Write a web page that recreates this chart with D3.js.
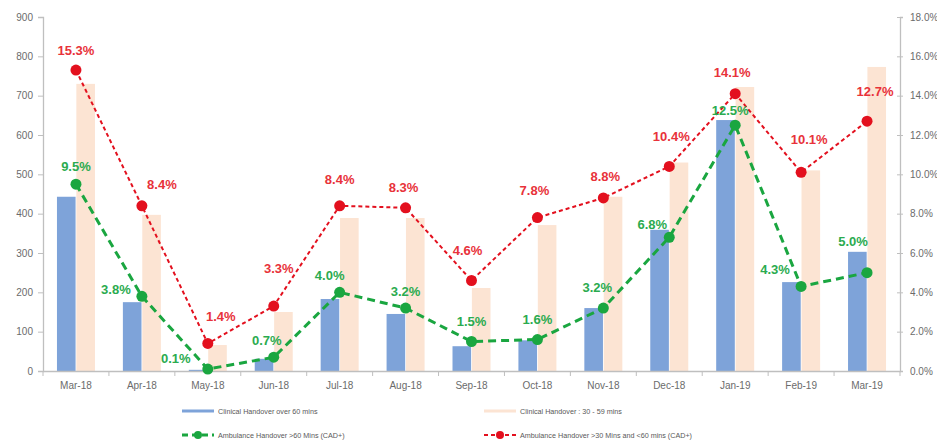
<!DOCTYPE html>
<html>
<head>
<meta charset="utf-8">
<script src="https://cdn.jsdelivr.net/npm/d3@7"></script>
<style>
  html, body { margin: 0; padding: 0; background: #fff; }
  svg { display: block; font-family: "Liberation Sans", Arial, sans-serif; }
</style>
</head>
<body>
<svg id="chart" width="937" height="444"></svg>
<script>
// Monthly handover figures, Mar-18 to Mar-19
const months = ["Mar-18", "Apr-18", "May-18", "Jun-18", "Jul-18", "Aug-18", "Sep-18",
                "Oct-18", "Nov-18", "Dec-18", "Jan-19", "Feb-19", "Mar-19"];
const clinicalOver60 = [443, 175, 3, 31, 183, 145, 63, 78, 160, 359, 638, 226, 303];
const clinical30to59 = [730, 397, 66, 150, 389, 389, 211, 371, 443, 530, 722, 510, 773];
const ambulanceOver60 = [9.5, 3.8, 0.1, 0.7, 4.0, 3.2, 1.5, 1.6, 3.2, 6.8, 12.5, 4.3, 5.0];
const ambulance30to60 = [15.3, 8.4, 1.4, 3.3, 8.4, 8.3, 4.6, 7.8, 8.8, 10.4, 14.1, 10.1, 12.7];
const leftTicks = [0, 100, 200, 300, 400, 500, 600, 700, 800, 900];
const rightTicks = [0, 2, 4, 6, 8, 10, 12, 14, 16, 18];
const seriesNames = ["Clinical Handover over 60 mins", "Clinical Handover : 30 - 59 mins",
                     "Ambulance Handover >60 Mins (CAD+)", "Ambulance Handover >30 Mins and <60 mins (CAD+)"];

// Hand-tuned data label nudges (dx, dy) so labels clear the lines
const redLabelOffset = [[0,-20],[20,-21],[13,-27],[5,-38],[0,-26],[-2,-20],[-4,-30],[-3,-27],[2,-21],[2,-30],[-3,-21],[8,-33],[8,-30]];
const greenLabelOffset = [[0,-18],[-26,-7],[-32,-11],[-7,-17],[-10,-17],[0,-17],[0,-20],[0,-20],[-6,-21],[-17,-13],[-5,-15],[-26,-17],[-14,-31]];

const BLUE = "#7ea3d9", PEACH = "#fce4d3", RED = "#e3101e", GREEN = "#1aa640";
const RED_TXT = "#e8323a", GREEN_TXT = "#2bab4f";
const AXIS = "#bfbfbf", TICK_TXT = "#6b6b6b";

const svg = d3.select("#chart");
const plot = { left: 43, right: 900, top: 17, bottom: 371 };

const x = d3.scaleBand().domain(months).range([plot.left, plot.right]).paddingInner(0).paddingOuter(0);
const yL = d3.scaleLinear().domain([0, 900]).range([plot.bottom, plot.top]);
const yR = d3.scaleLinear().domain([0, 18]).range([plot.bottom, plot.top]);
const cx = m => x(m) + x.bandwidth() / 2;
const sub = d3.scaleBand().domain([0, 1]).range([-19, 19]).paddingInner(0.04);

// Columns
const g = svg.append("g");
g.selectAll("rect.over60").data(months).join("rect")
  .attr("x", (m) => cx(m) + sub(0)).attr("width", sub.bandwidth())
  .attr("y", (m, i) => yL(clinicalOver60[i]))
  .attr("height", (m, i) => yL(0) - yL(clinicalOver60[i]))
  .attr("fill", BLUE);
g.selectAll("rect.r30").data(months).join("rect")
  .attr("x", (m) => cx(m) + sub(1)).attr("width", sub.bandwidth())
  .attr("y", (m, i) => yL(clinical30to59[i]))
  .attr("height", (m, i) => yL(0) - yL(clinical30to59[i]))
  .attr("fill", PEACH);

// Axes
const axL = svg.append("g").attr("transform", `translate(${plot.left},0)`)
  .call(d3.axisLeft(yL).tickValues(leftTicks).tickSize(5).tickPadding(5));
const axR = svg.append("g").attr("transform", `translate(${plot.right},0)`)
  .call(d3.axisRight(yR).tickValues(rightTicks).tickSize(3).tickPadding(7)
        .tickFormat(v => v.toFixed(1) + "%"));
const axB = svg.append("g").attr("transform", `translate(0,${plot.bottom})`)
  .call(d3.axisBottom(x).tickSize(0).tickPadding(11));
[axL, axR, axB].forEach(a => {
  a.select(".domain").attr("stroke", AXIS).attr("stroke-width", 1.3);
  a.selectAll(".tick line").attr("stroke", AXIS);
  a.selectAll("text").attr("fill", TICK_TXT).attr("font-size", 10)
    .attr("font-family", "'Liberation Sans', Arial, sans-serif");
});
axR.selectAll(".tick line").attr("x1", -3);
// category boundary tick marks
axB.selectAll("line.sep").data(d3.range(months.length + 1)).join("line")
  .attr("class", "sep")
  .attr("x1", i => plot.left + i * x.step()).attr("x2", i => plot.left + i * x.step())
  .attr("y1", 0).attr("y2", 5).attr("stroke", AXIS);

// Lines with markers
function series(values, color, dash, width, r) {
  const line = d3.line().x((v, i) => cx(months[i])).y(v => yR(v));
  svg.append("path").datum(values).attr("d", line)
    .attr("fill", "none").attr("stroke", color).attr("stroke-width", width)
    .attr("stroke-dasharray", dash);
  svg.append("g").selectAll("circle").data(values).join("circle")
    .attr("cx", (v, i) => cx(months[i])).attr("cy", v => yR(v))
    .attr("r", r).attr("fill", color);
}
series(ambulanceOver60, GREEN, "8,5", 3, 5.5);
series(ambulance30to60, RED, "4,3", 2, 5.5);

// Data labels
function labels(values, offsets, color) {
  svg.append("g").selectAll("text").data(values).join("text")
    .attr("x", (v, i) => cx(months[i]) + offsets[i][0])
    .attr("y", (v, i) => yR(v) + offsets[i][1])
    .attr("text-anchor", "middle").attr("dominant-baseline", "central")
    .attr("font-size", 13).attr("font-weight", "bold").attr("fill", color)
    .text(v => v.toFixed(1) + "%");
}
labels(ambulanceOver60, greenLabelOffset, GREEN_TXT);
labels(ambulance30to60, redLabelOffset, RED_TXT);

// Legend
const legend = svg.append("g").attr("font-size", 7.2).attr("fill", "#595959");
const legendItems = [
  { x: 182, y: 411, kind: "bar", color: BLUE, name: seriesNames[0] },
  { x: 484, y: 411, kind: "bar", color: PEACH, name: seriesNames[1] },
  { x: 182, y: 435, kind: "line", color: GREEN, dash: "6,4", w: 3, name: seriesNames[2] },
  { x: 484, y: 435, kind: "line", color: RED, dash: "4,3", w: 2, name: seriesNames[3] }
];
legendItems.forEach(it => {
  if (it.kind === "bar") {
    legend.append("rect").attr("x", it.x).attr("y", it.y - 1.5).attr("width", 32).attr("height", 3)
      .attr("fill", it.color);
  } else {
    legend.append("line").attr("x1", it.x).attr("x2", it.x + 32).attr("y1", it.y).attr("y2", it.y)
      .attr("stroke", it.color).attr("stroke-width", it.w).attr("stroke-dasharray", it.dash);
    legend.append("circle").attr("cx", it.x + 16).attr("cy", it.y).attr("r", 4).attr("fill", it.color);
  }
  legend.append("text").attr("x", it.x + 36).attr("y", it.y).attr("dominant-baseline", "central")
    .text(it.name);
});
</script>
</body>
</html>
